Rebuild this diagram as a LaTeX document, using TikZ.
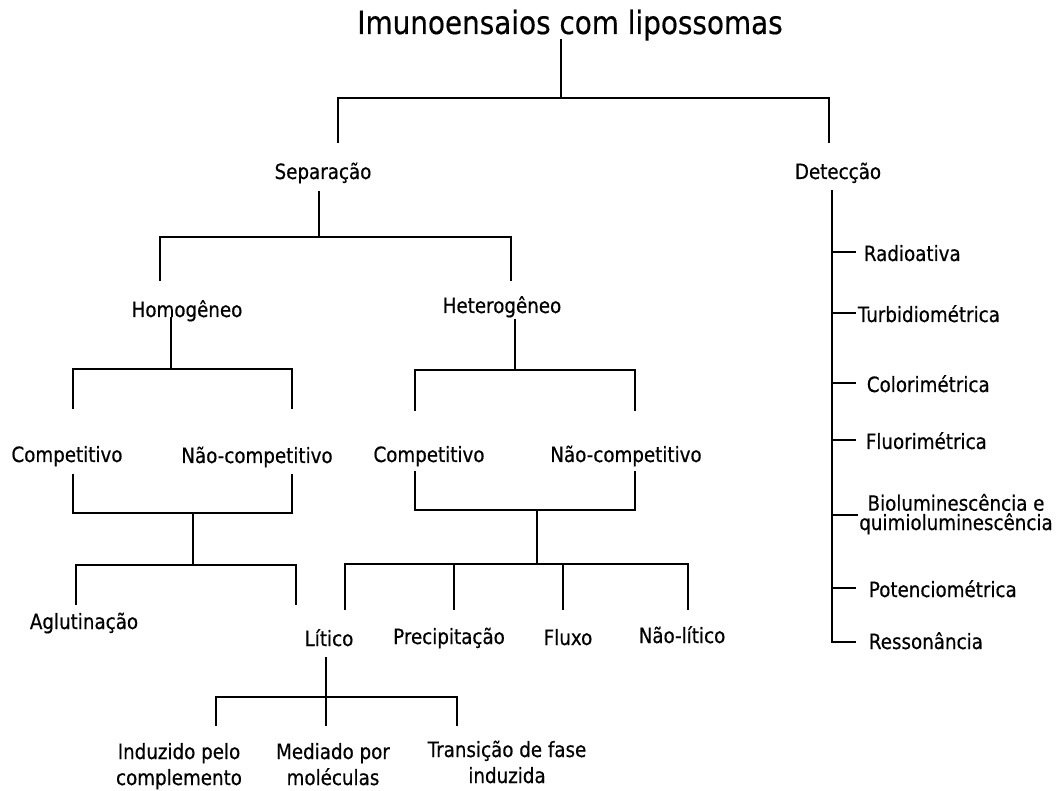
\documentclass[tikz,border=0pt]{standalone}
\usepackage{fontspec}
\setmainfont{DejaVu Sans}[FakeStretch=0.87,FakeBold=0.5]
\begin{document}
\begin{tikzpicture}[x=0.75pt,y=-0.75pt,
  line width=1.3pt, line cap=rect,
  lbl/.style={font=\fontsize{15.75}{19.5}\selectfont, inner sep=0pt, anchor=base, align=center},
  lblw/.style={font=\fontsize{15.75}{19.5}\selectfont, inner sep=0pt, anchor=base west},
  ttl/.style={font=\fontsize{24}{28}\selectfont, inner sep=0pt, anchor=base}]
\useasboundingbox (0,0) rectangle (1057,791);

% ---- texts ----
\node[ttl] (title) at (570,34) {Imunoensaios com lipossomas};
\node[lbl] (sep) at (323,179) {Separação};
\node[lbl] (det) at (838,179) {Detecção};
\node[lbl] (hom) at (187,317) {Homogêneo};
\node[lbl] (het) at (502,313) {Heterogêneo};
\node[lbl] (hcomp) at (67,462) {Competitivo};
\node[lbl] (hncomp) at (257,463) {Não-competitivo};
\node[lbl] (tcomp) at (429,462) {Competitivo};
\node[lbl] (tncomp) at (626,462) {Não-competitivo};
\node[lbl] (aglut) at (84,629) {Aglutinação};
\node[lbl] (litico) at (329,646) {Lítico};
\node[lbl] (precip) at (449,644) {Precipitação};
\node[lbl] (fluxo) at (568,645) {Fluxo};
\node[lbl] (nlitico) at (682,643) {Não-lítico};
\node[lbl] (induz) at (179,785) {Induzido pelo\\complemento};
\node[lbl] (mediado) at (333,785) {Mediado por\\moléculas};
\node[lbl] (trans) at (507,783) {Transição de fase\\induzida};
\node[lblw] (radio) at (863,261) {Radioativa};
\node[lblw] (turb) at (857,322) {Turbidiométrica};
\node[lblw] (color) at (866,392) {Colorimétrica};
\node[lblw] (fluor) at (865,449) {Fluorimétrica};
\node[lbl, font=\fontsize{15.75}{14.5}\selectfont] (biolum) at (956,530) {Bioluminescência e\\quimioluminescência};
\node[lblw] (poten) at (868,597) {Potenciométrica};
\node[lblw] (resso) at (868,649) {Ressonância};

% ---- connector points ----
\coordinate (t1) at (561,40);   \coordinate (t2) at (561,98);
\coordinate (tbl) at (338,98);  \coordinate (tbr) at (829,98);
\coordinate (sdrop) at (338,142); \coordinate (ddrop) at (829,142);

\coordinate (s1) at (319,192);  \coordinate (s2) at (319,237);
\coordinate (sbl) at (160,237); \coordinate (sbr) at (511,237);
\coordinate (hodrop) at (160,280); \coordinate (hedrop) at (511,280);

\coordinate (h1) at (171,318);  \coordinate (h2) at (171,369);
\coordinate (hbl) at (73,369);  \coordinate (hbr) at (292,369);
\coordinate (hcd) at (73,408);  \coordinate (hnd) at (292,408);

\coordinate (e1) at (515,320);  \coordinate (e2) at (515,370);
\coordinate (ebl) at (415,370); \coordinate (ebr) at (635,370);
\coordinate (ecd) at (415,410); \coordinate (end) at (635,410);

\coordinate (hcu) at (73,475);  \coordinate (hnu) at (292,475);
\coordinate (hkl) at (73,513);  \coordinate (hkr) at (292,513);
\coordinate (hk1) at (193,513); \coordinate (hk2) at (193,565);
\coordinate (abl) at (76,565);  \coordinate (abr) at (296,565);
\coordinate (ad1) at (76,604);  \coordinate (ad2) at (296,604);

\coordinate (ecu) at (415,472); \coordinate (enu) at (635,472);
\coordinate (ekl) at (415,510); \coordinate (ekr) at (635,510);
\coordinate (ek1) at (537,510); \coordinate (ek2) at (537,564);
\coordinate (mbl) at (345,564); \coordinate (mbr) at (688,564);
\coordinate (mb2) at (454,564); \coordinate (mb3) at (563,564);
\coordinate (md1) at (345,609); \coordinate (md2) at (454,609);
\coordinate (md3) at (563,609); \coordinate (md4) at (688,609);

\coordinate (l1) at (326,658);  \coordinate (l2) at (326,697);
\coordinate (lbl) at (216,697); \coordinate (lbr) at (457,697);
\coordinate (ld1) at (216,725); \coordinate (ld2) at (326,725);
\coordinate (ld3) at (457,725);

\coordinate (d1) at (832,191);  \coordinate (d2) at (832,642);
\coordinate (k1) at (832,252);  \coordinate (k1e) at (855,252);
\coordinate (k2) at (832,313);  \coordinate (k2e) at (855,313);
\coordinate (k3) at (832,383);  \coordinate (k3e) at (855,383);
\coordinate (k4) at (832,440);  \coordinate (k4e) at (855,440);
\coordinate (k5) at (832,515);  \coordinate (k5e) at (857,515);
\coordinate (k6) at (832,588);  \coordinate (k6e) at (855,588);
\coordinate (k7e) at (855,642);

% ---- connectors ----
\draw (t1) -- (t2);
\draw (sdrop) -- (tbl) -- (tbr) -- (ddrop);

\draw (s1) -- (s2);
\draw (hodrop) -- (sbl) -- (sbr) -- (hedrop);

\draw (h1) -- (h2);
\draw (hcd) -- (hbl) -- (hbr) -- (hnd);
\draw (e1) -- (e2);
\draw (ecd) -- (ebl) -- (ebr) -- (end);

\draw (hcu) -- (hkl) -- (hkr) -- (hnu);
\draw (hk1) -- (hk2);
\draw (ad1) -- (abl) -- (abr) -- (ad2);

\draw (ecu) -- (ekl) -- (ekr) -- (enu);
\draw (ek1) -- (ek2);
\draw (md1) -- (mbl) -- (mbr) -- (md4);
\draw (mb2) -- (md2);
\draw (mb3) -- (md3);

\draw (l1) -- (l2);
\draw (ld1) -- (lbl) -- (lbr) -- (ld3);
\draw (l2) -- (ld2);

\draw (d1) -- (d2) -- (k7e);
\draw (k1) -- (k1e);
\draw (k2) -- (k2e);
\draw (k3) -- (k3e);
\draw (k4) -- (k4e);
\draw (k5) -- (k5e);
\draw (k6) -- (k6e);
\end{tikzpicture}
\end{document}
